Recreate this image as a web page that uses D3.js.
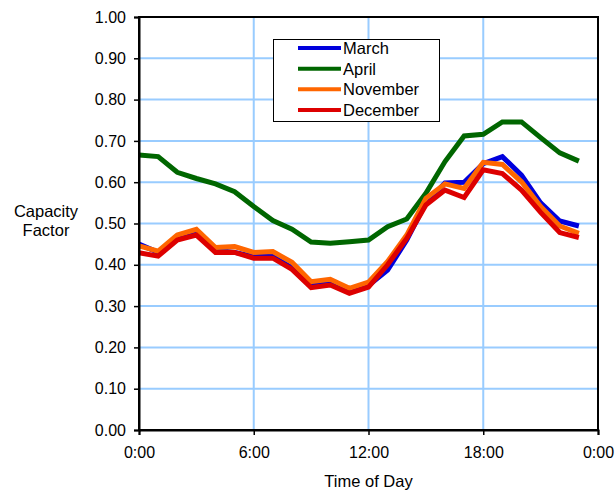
<!DOCTYPE html>
<html>
<head>
<meta charset="utf-8">
<script src="https://cdn.jsdelivr.net/npm/d3@7"></script>
<style>
  html, body { margin: 0; padding: 0; background: #fff; }
  svg text { font-family: "Liberation Sans", Arial, sans-serif; fill: #000; }
</style>
</head>
<body>
<svg id="chart" width="616" height="491"></svg>
<script>
// Hourly capacity factor by month (hour 0..23)
const hours = d3.range(0, 24);
const seriesNames = ["March", "April", "November", "December"];
const seriesColors = ["#0000dd", "#006600", "#ff6600", "#dd0000"];

const march    = [0.450, 0.430, 0.465, 0.478, 0.436, 0.430, 0.420, 0.420, 0.393, 0.350, 0.355, 0.335,
                  0.350, 0.387, 0.460, 0.550, 0.598, 0.600, 0.645, 0.662, 0.617, 0.550, 0.506, 0.494];
const april    = [0.666, 0.662, 0.624, 0.609, 0.596, 0.577, 0.541, 0.507, 0.486, 0.455, 0.452, 0.456,
                  0.460, 0.492, 0.511, 0.573, 0.650, 0.712, 0.716, 0.746, 0.746, 0.708, 0.671, 0.651];
const november = [0.446, 0.433, 0.472, 0.486, 0.442, 0.444, 0.430, 0.432, 0.406, 0.359, 0.365, 0.343,
                  0.358, 0.408, 0.472, 0.561, 0.596, 0.585, 0.648, 0.643, 0.601, 0.541, 0.494, 0.476];
const december = [0.429, 0.421, 0.460, 0.472, 0.430, 0.430, 0.416, 0.416, 0.389, 0.345, 0.351, 0.331,
                  0.346, 0.400, 0.464, 0.545, 0.581, 0.563, 0.630, 0.621, 0.581, 0.527, 0.478, 0.466];
const seriesValues = [march, april, november, december];

const xTicks = [0, 6, 12, 18, 24];
const xTickLabels = ["0:00", "6:00", "12:00", "18:00", "0:00"];
const yTicks = d3.range(0, 11).map(i => i / 10);

const svg = d3.select("#chart");
const plot = { left: 139, right: 598, top: 17, bottom: 430 };

const x = d3.scaleLinear().domain([0, 24]).range([plot.left, plot.right]);
const y = d3.scaleLinear().domain([0, 1]).range([plot.bottom, plot.top]);

// grid lines
const grid = svg.append("g").attr("stroke", "#99ccff").attr("stroke-width", 2);
grid.selectAll("line.h").data(yTicks.filter(v => v > 0 && v < 1)).join("line")
  .attr("x1", plot.left).attr("x2", plot.right)
  .attr("y1", d => y(d)).attr("y2", d => y(d));
grid.selectAll("line.v").data(xTicks.filter(v => v > 0 && v < 24)).join("line")
  .attr("y1", plot.top).attr("y2", plot.bottom)
  .attr("x1", d => x(d)).attr("x2", d => x(d));

// series lines
const line = d3.line().x((d, i) => x(hours[i])).y(d => y(d));
svg.append("g").selectAll("path").data(seriesValues).join("path")
  .attr("d", line)
  .attr("fill", "none")
  .attr("stroke", (d, i) => seriesColors[i])
  .attr("stroke-width", 5)
  .attr("stroke-linejoin", "miter");

// plot frame
svg.append("rect")
  .attr("x", plot.left).attr("y", plot.top)
  .attr("width", plot.right - plot.left).attr("height", plot.bottom - plot.top)
  .attr("fill", "none").attr("stroke", "#000").attr("stroke-width", 2);

// axes
const yAxis = d3.axisLeft(y).tickValues(yTicks).tickFormat(d3.format(".2f"))
  .tickSize(5).tickPadding(8);
const gy = svg.append("g").attr("transform", `translate(${plot.left},0)`).call(yAxis);

const xAxis = d3.axisBottom(x).tickValues(xTicks).tickFormat((d, i) => xTickLabels[i])
  .tickSize(5).tickPadding(12);
const gx = svg.append("g").attr("transform", `translate(0,${plot.bottom})`).call(xAxis);

[gx, gy].forEach(g => {
  g.select(".domain").attr("stroke", "#000").attr("stroke-width", 2);
  g.selectAll(".tick line").attr("stroke", "#000").attr("stroke-width", 1.5);
  g.selectAll(".tick text").attr("font-size", 16)
    .attr("font-family", "'Liberation Sans', Arial, sans-serif").attr("fill", "#000");
});

// axis titles
svg.append("text").attr("x", (plot.left + plot.right) / 2).attr("y", 487)
  .attr("text-anchor", "middle").attr("font-size", 16.5).text("Time of Day");
const yt = svg.append("text").attr("text-anchor", "middle").attr("font-size", 16.5);
yt.append("tspan").attr("x", 46).attr("y", 217).text("Capacity");
yt.append("tspan").attr("x", 46).attr("y", 236).text("Factor");

// legend
const legend = svg.append("g");
legend.append("rect").attr("x", 273.5).attr("y", 39.5).attr("width", 166).attr("height", 82)
  .attr("fill", "#fff").attr("stroke", "#000").attr("stroke-width", 1);
const rowY = d3.scalePoint().domain(seriesNames).range([48, 110]);
const rows = legend.selectAll("g.row").data(seriesNames).join("g")
  .attr("transform", d => `translate(0,${rowY(d)})`);
rows.append("line").attr("x1", 298).attr("x2", 341)
  .attr("stroke", (d, i) => seriesColors[i]).attr("stroke-width", 4);
rows.append("text").attr("x", 343).attr("dy", "0.36em").attr("font-size", 16.5).text(d => d);
</script>
</body>
</html>
